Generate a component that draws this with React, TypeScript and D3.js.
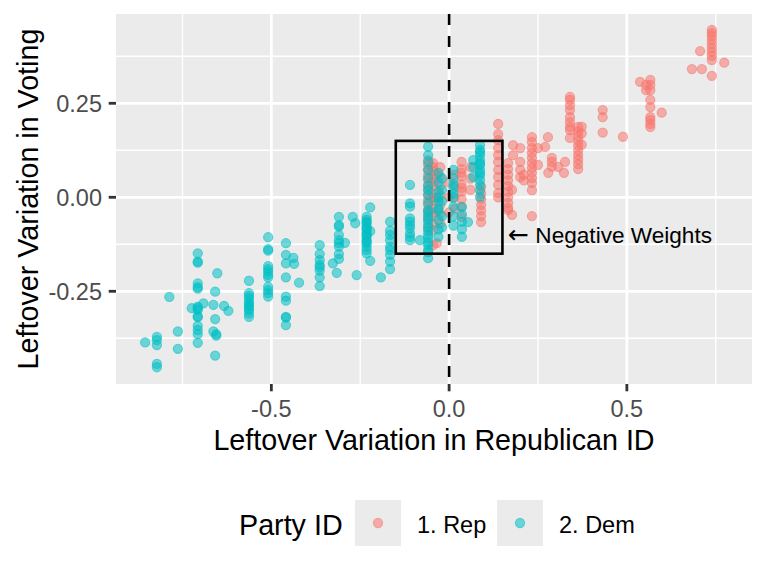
import { scaleLinear } from 'd3';

// Party ID columns: [x, y values...]
const repColumns: [number, number[]][] = [
  [-0.059, [0.099, 0.086, 0.073, 0.059, 0.046, 0.033, 0.019, 0.006, -0.007, -0.02, -0.034, -0.047, -0.06, -0.082]],
  [-0.045, [0.091, 0.07, 0.05, 0.03, 0.01, -0.01, -0.03, -0.05, -0.07, -0.087, -0.127, 0.08, 0.04, 0.0, -0.04]],
  [-0.035, [-0.122, 0.06, 0.0]],
  [-0.025, [0.08, 0.055, 0.03, 0.005, -0.02, -0.045, -0.07]],
  [0.0, [0.04, 0.0, -0.04]],
  [0.015, [0.06, 0.03, 0.0, -0.03]],
  [0.035, [0.094, 0.075, 0.055, 0.035, 0.015, -0.005, -0.025, -0.052, 0.065, 0.025]],
  [0.06, [0.08, 0.05, 0.02]],
  [0.09, [0.028, 0.01, -0.005, -0.02, -0.035, -0.05, -0.066]],
  [0.138, [0.195, 0.168, 0.152, 0.131, 0.112, 0.094, 0.073, 0.054, 0.033, 0.011, 0.0]],
  [0.166, [0.091, 0.075, 0.06, 0.045, 0.03, 0.015, 0.0, -0.015, -0.034, -0.028]],
  [0.177, [-0.047, 0.02]],
  [0.18, [0.139, 0.112]],
  [0.2, [0.131, 0.094, 0.073, 0.054]],
  [0.21, [0.06, 0.045]],
  [0.233, [0.16, 0.147, 0.131, 0.118, 0.105, 0.091, 0.078, 0.065, 0.051, 0.038, 0.019, -0.05]],
  [0.25, [0.131, 0.086]],
  [0.27, [0.134]],
  [0.278, [0.16]],
  [0.279, [0.065]],
  [0.289, [0.105, 0.094, 0.081]],
  [0.307, [0.081]],
  [0.323, [0.065]],
  [0.326, [0.094]],
  [0.34, [0.267, 0.259, 0.245, 0.232, 0.213, 0.2, 0.187, 0.179, 0.158]],
  [0.363, [0.187, 0.175, 0.163, 0.15, 0.138, 0.125, 0.112, 0.1, 0.088, 0.075]],
  [0.373, [0.188, 0.17, 0.14]],
  [0.432, [0.232, 0.213, 0.172]],
  [0.489, [0.161]],
  [0.537, [0.307]],
  [0.554, [0.299, 0.285]],
  [0.566, [0.312, 0.299, 0.285, 0.259, 0.24, 0.213, 0.205, 0.195, 0.187]],
  [0.598, [0.225]],
  [0.683, [0.341]],
  [0.706, [0.389]],
  [0.711, [0.341]],
  [0.739, [0.445, 0.437, 0.429, 0.419, 0.408, 0.397, 0.387, 0.376, 0.365, 0.323]],
  [0.774, [0.358]],
];

const demColumns: [number, number[]][] = [
  [-0.855, [-0.386]],
  [-0.822, [-0.371, -0.38, -0.393, -0.443, -0.452]],
  [-0.787, [-0.265]],
  [-0.763, [-0.357, -0.403]],
  [-0.724, [-0.295]],
  [-0.707, [-0.149, -0.171, -0.174, -0.229, -0.239, -0.243, -0.291, -0.295, -0.3, -0.317, -0.319, -0.342, -0.353, -0.364, -0.387]],
  [-0.691, [-0.282]],
  [-0.663, [-0.286, -0.357]],
  [-0.658, [-0.251, -0.324, -0.421]],
  [-0.655, [-0.364, -0.368]],
  [-0.652, [-0.202]],
  [-0.633, [-0.289]],
  [-0.621, [-0.302]],
  [-0.563, [-0.222, -0.255, -0.262, -0.269, -0.278, -0.284, -0.289, -0.295, -0.3, -0.309, -0.318]],
  [-0.509, [-0.106, -0.138, -0.142, -0.183, -0.191, -0.198, -0.206, -0.213, -0.238, -0.247, -0.255, -0.264]],
  [-0.459, [-0.122, -0.153, -0.176, -0.213, -0.264, -0.275, -0.318, -0.32, -0.34]],
  [-0.438, [-0.161]],
  [-0.436, [-0.177]],
  [-0.422, [-0.227]],
  [-0.364, [-0.127, -0.151, -0.167, -0.18, -0.186, -0.195, -0.213, -0.236]],
  [-0.327, [-0.176]],
  [-0.316, [-0.201]],
  [-0.31, [-0.052, -0.074, -0.078, -0.1, -0.114, -0.122, -0.131, -0.151, -0.164]],
  [-0.293, [-0.121]],
  [-0.271, [-0.052]],
  [-0.264, [-0.069]],
  [-0.26, [-0.207]],
  [-0.232, [-0.052, -0.06, -0.069, -0.078, -0.087, -0.096, -0.105, -0.114, -0.122, -0.131, -0.14, -0.149, -0.065, -0.083, -0.1, -0.118]],
  [-0.222, [-0.027, -0.169, -0.09]],
  [-0.192, [-0.213]],
  [-0.166, [-0.065, -0.089, -0.114, -0.131, -0.153, -0.171, -0.191, -0.1, -0.14]],
  [-0.11, [0.033, -0.016, -0.025, -0.056, -0.065, -0.074, -0.082, -0.096, -0.105, -0.114]],
  [-0.082, [-0.114]],
  [-0.059, [0.135, 0.112, 0.094, 0.073, 0.051, 0.03, 0.006, -0.015, -0.034, -0.052, -0.071, -0.09, -0.108, -0.127, -0.146, -0.162, -0.08, -0.1, -0.12, -0.14, 0.02, -0.04, -0.06]],
  [-0.03, [0.065, 0.04, 0.015, -0.01, -0.035, -0.06, -0.085, -0.105, -0.03, 0.0]],
  [-0.02, [0.05, 0.02, -0.01, -0.05, -0.08]],
  [0.012, [0.073, 0.05, 0.025, 0.0, -0.025, -0.05, -0.075, 0.035, 0.01]],
  [0.036, [-0.026, -0.045, -0.065, -0.085, -0.105]],
  [0.053, [-0.066]],
  [0.068, [0.099, 0.08, 0.054]],
  [0.087, [0.139, 0.126, 0.112, 0.099, 0.086, 0.073, 0.059, 0.046, 0.033, 0.019, 0.001, 0.12, 0.09, 0.065]],
];

const parties = ['1. Rep', '2. Dem'];
const partyColors = ['#F8766D', '#00BFC4'];

const xTicks = [-0.5, 0, 0.5];
const xMinor = [-0.75, -0.25, 0.25, 0.75];
const yTicks = [-0.25, 0, 0.25];
const yMinor = [-0.375, -0.125, 0.125, 0.375];

const boxHalf = 0.15;
const noteArrow = '\u2190';
const noteText = ' Negative Weights';
const noteX = 0.166;
const noteY = -0.1;

const W = 768;
const H = 576;
const panel = { left: 116, right: 752, top: 14, bottom: 384 };
const font = '"Liberation Sans", Arial, sans-serif';

const x = scaleLinear().domain([-0.937, 0.852]).range([panel.left, panel.right]);
const y = scaleLinear().domain([-0.4966, 0.4875]).range([panel.bottom, panel.top]);

const flatten = (cols: [number, number[]][]) =>
  cols.flatMap(([cx, ys]) => ys.map((v) => ({ x: cx, y: v })));

const Dot = ({ cx, cy, color }: { cx: number; cy: number; color: string }) => (
  <circle cx={cx} cy={cy} r={4.6} fill={color} fillOpacity={0.55} stroke={color} strokeOpacity={0.55} strokeWidth={1.1} />
);

const App = () => {
  const rep = flatten(repColumns);
  const dem = flatten(demColumns);
  const pw = panel.right - panel.left;
  const ph = panel.bottom - panel.top;

  return (
    <svg width={W} height={H} style={{ position: 'absolute', left: 0, top: 0, background: '#fff' }} fontFamily={font}>
      <rect x={panel.left} y={panel.top} width={pw} height={ph} fill="#EBEBEB" />
      <defs>
        <clipPath id="panel">
          <rect x={panel.left} y={panel.top} width={pw} height={ph} />
        </clipPath>
      </defs>
      {xMinor.map((t) => (
        <line key={'xm' + t} x1={x(t)} x2={x(t)} y1={panel.top} y2={panel.bottom} stroke="#fff" strokeWidth={1.4} />
      ))}
      {yMinor.map((t) => (
        <line key={'ym' + t} y1={y(t)} y2={y(t)} x1={panel.left} x2={panel.right} stroke="#fff" strokeWidth={1.4} />
      ))}
      {xTicks.map((t) => (
        <line key={'xg' + t} x1={x(t)} x2={x(t)} y1={panel.top} y2={panel.bottom} stroke="#fff" strokeWidth={2.8} />
      ))}
      {yTicks.map((t) => (
        <line key={'yg' + t} y1={y(t)} y2={y(t)} x1={panel.left} x2={panel.right} stroke="#fff" strokeWidth={2.8} />
      ))}

      <g clipPath="url(#panel)">
        {rep.map((d, i) => (
          <Dot key={'r' + i} cx={x(d.x)} cy={y(d.y)} color={partyColors[0]} />
        ))}
        {dem.map((d, i) => (
          <Dot key={'d' + i} cx={x(d.x)} cy={y(d.y)} color={partyColors[1]} />
        ))}
        <line x1={x(0)} x2={x(0)} y1={panel.top} y2={panel.bottom} stroke="#000" strokeWidth={2.6} strokeDasharray="11 11" />
        <rect
          x={x(-boxHalf)}
          y={y(boxHalf)}
          width={x(boxHalf) - x(-boxHalf)}
          height={y(-boxHalf) - y(boxHalf)}
          fill="none"
          stroke="#000"
          strokeWidth={2.6}
        />
      </g>
      <text x={x(noteX)} y={y(noteY)} dy="0.35em" fontSize={22.6} fill="#000">
        <tspan fontFamily='"DejaVu Sans", sans-serif' fontSize={25}>{noteArrow}</tspan>
        <tspan>{noteText}</tspan>
      </text>

      {/* axes */}
      {xTicks.map((t) => (
        <g key={'xt' + t}>
          <line x1={x(t)} x2={x(t)} y1={panel.bottom} y2={panel.bottom + 7.3} stroke="#333" strokeWidth={2.8} />
          <text x={x(t)} y={417} textAnchor="middle" fontSize={23.5} fill="#4D4D4D">
            {t.toFixed(1)}
          </text>
        </g>
      ))}
      {yTicks.map((t) => (
        <g key={'yt' + t}>
          <line x1={panel.left - 7.3} x2={panel.left} y1={y(t)} y2={y(t)} stroke="#333" strokeWidth={2.8} />
          <text x={102} y={y(t)} dy="0.36em" textAnchor="end" fontSize={23.5} fill="#4D4D4D">
            {t.toFixed(2)}
          </text>
        </g>
      ))}
      <text x={(panel.left + panel.right) / 2} y={450} textAnchor="middle" fontSize={28.7} fill="#000">
        Leftover Variation in Republican ID
      </text>
      <text
        transform={`translate(38, ${(panel.top + panel.bottom) / 2}) rotate(-90)`}
        textAnchor="middle"
        fontSize={28.7}
        fill="#000"
      >
        Leftover Variation in Voting
      </text>

      {/* legend */}
      <text x={239} y={535} fontSize={28.7} fill="#000">
        Party ID
      </text>
      {parties.map((p, i) => (
        <g key={p} transform={`translate(${355 + i * 142}, 500)`}>
          <rect width={46} height={46} fill="#EBEBEB" />
          <Dot cx={23} cy={23} color={partyColors[i]} />
          <text x={62} y={32.5} fontSize={23.5} fill="#000">
            {p}
          </text>
        </g>
      ))}
    </svg>
  );
};

export default App;
